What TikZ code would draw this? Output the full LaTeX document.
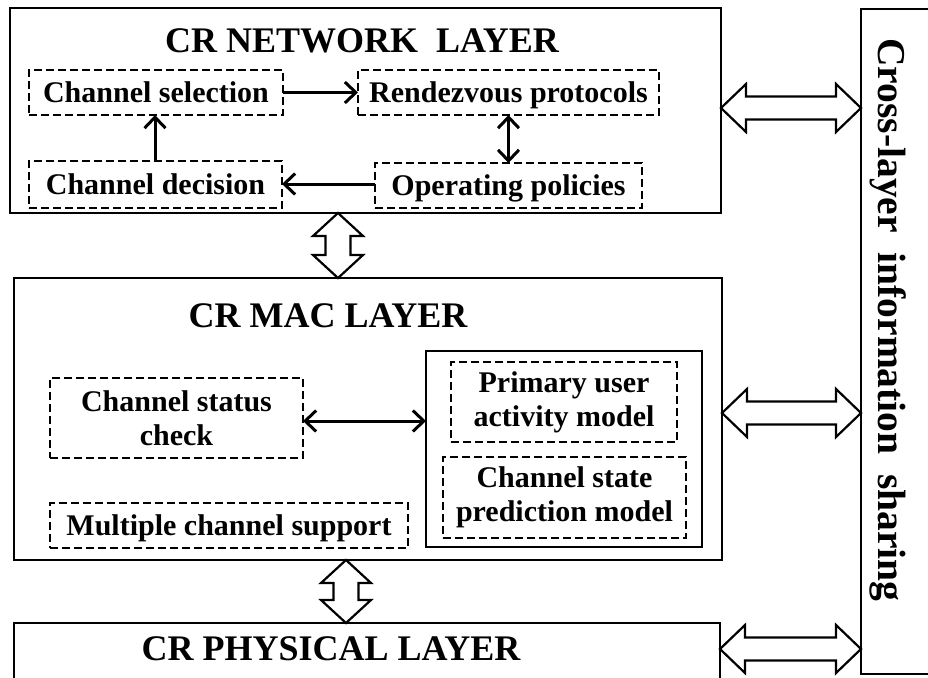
\documentclass[tikz,border=0pt]{standalone}
\usepackage{fontspec}
\setmainfont{Liberation Serif}
\usetikzlibrary{arrows.meta,calc}
\newcommand\hblock[2]{%
  \draw[blk] let \p1=(#1), \p2=(#2) in
  (\x1,\y1) -- ++(25pt,24pt) -- ++(0pt,-12.5pt) -- (\x2-25pt,\y1+11.5pt) -- ++(0pt,12.5pt)
  -- (\x2,\y1) -- ++(-25pt,-24pt) -- ++(0pt,12.5pt) -- (\x1+25pt,\y1-11.5pt) -- ++(0pt,-12.5pt) -- cycle;}
\newcommand\vblock[2]{%
  \draw[blk] let \p1=(#1), \p2=(#2) in
  (\x1,\y1) -- (\x1+25pt,\y1-23pt) -- (\x1+12.5pt,\y1-23pt) -- (\x1+12.5pt,\y2+23pt) -- (\x1+25pt,\y2+23pt)
  -- (\x1,\y2) -- (\x1-25pt,\y2+23pt) -- (\x1-12.5pt,\y2+23pt) -- (\x1-12.5pt,\y1-23pt) -- (\x1-25pt,\y1-23pt) -- cycle;}
\begin{document}
\begin{tikzpicture}[x=1pt,y=-1pt,
  lbox/.style={draw, line width=2.6pt, inner sep=0pt, outer sep=0pt},
  dbox/.style={draw, dash pattern=on 8pt off 4pt, line width=2.3pt, inner sep=0pt, outer sep=0pt,
    align=center, font=\fontsize{30}{34}\selectfont\bfseries},
  oneline/.style={text height=20pt, text depth=0pt},
  ttl/.style={inner sep=0pt, font=\fontsize{36}{40}\selectfont\bfseries},
  tarr/.style={line width=3pt, -{Straight Barb[length=11pt,width=21pt]}},
  tbarr/.style={line width=3pt, {Straight Barb[length=11pt,width=21pt]}-{Straight Barb[length=11pt,width=21pt]}},
  blk/.style={draw, fill=white, line width=2.2pt, line join=miter}]
\useasboundingbox (0,0) rectangle (928,677);
\clip (0,0) rectangle (928,677);
% layers
\node[lbox, minimum width=711pt, minimum height=205pt] (net) at (365.5,110.5) {};
\node[lbox, minimum width=708pt, minimum height=282pt] (mac) at (368,419) {};
\node[lbox, minimum width=706pt, minimum height=77pt] (phy) at (367,661.5) {};
\node[lbox, minimum width=84pt, minimum height=665pt] (cross) at (903,341.5) {};
% titles
\node[ttl] (nett) at (362,41) {CR NETWORK~~LAYER};
\node[ttl] (mact) at (328,316) {CR MAC LAYER};
\node[ttl] (phyt) at (331,649) {CR PHYSICAL LAYER};
\node[inner sep=0pt, rotate=-90, font=\fontsize{39.5}{44}\selectfont\bfseries] (crosst) at (888,320) {Cross-layer~~information~~sharing};
% network layer boxes
\node[dbox, oneline, minimum width=254pt, minimum height=45pt] (sel) at (156,92.5) {Channel selection};
\node[dbox, oneline, minimum width=253pt, minimum height=47pt] (dec) at (155.5,184.5) {Channel decision};
\node[dbox, oneline, minimum width=301pt, minimum height=45pt] (ren) at (508.5,92.5) {Rendezvous protocols};
\node[dbox, oneline, minimum width=267pt, minimum height=45pt] (ops) at (508.5,185.5) {Operating policies};
% mac layer boxes
\node[dbox, minimum width=253pt, minimum height=80pt] (stat) at (176.5,418) {Channel status\\check};
\node[dbox, oneline, minimum width=358pt, minimum height=45pt] (multi) at (229,525.5) {Multiple channel support};
\node[lbox, minimum width=276pt, minimum height=196pt] (inner) at (564,449) {};
\node[dbox, minimum width=226pt, minimum height=80pt] (pua) at (564,402) {Primary user\\activity model};
\node[dbox, minimum width=243pt, minimum height=81pt] (csp) at (564.5,497.5) {Channel state\\prediction model};
% thin arrows
\draw[tarr] (sel.east) -- (ren.west |- sel.east);
\draw[tarr] (dec.north -| 155,0) -- (sel.south -| 155,0);
\draw[tarr] (ops.west |- 0,184) -- (dec.east |- 0,184);
\draw[tbarr] (ren.south) -- (ops.north);
\coordinate (s1) at (stat.east |- 0,421);
\draw[tbarr] (s1) -- (s1 -| inner.west);
% block arrows
\coordinate (h1) at (net.east |- 0,108);
\hblock{h1}{cross.west}
\coordinate (h2) at (mac.east |- 0,413);
\hblock{h2}{cross.west}
\coordinate (h3) at (phy.east |- 0,649);
\hblock{h3}{cross.west}
\coordinate (v1) at (net.south -| 338,0);
\vblock{v1}{mac.north}
\coordinate (v2) at (mac.south -| 346,0);
\vblock{v2}{phy.north}
\end{tikzpicture}
\end{document}
